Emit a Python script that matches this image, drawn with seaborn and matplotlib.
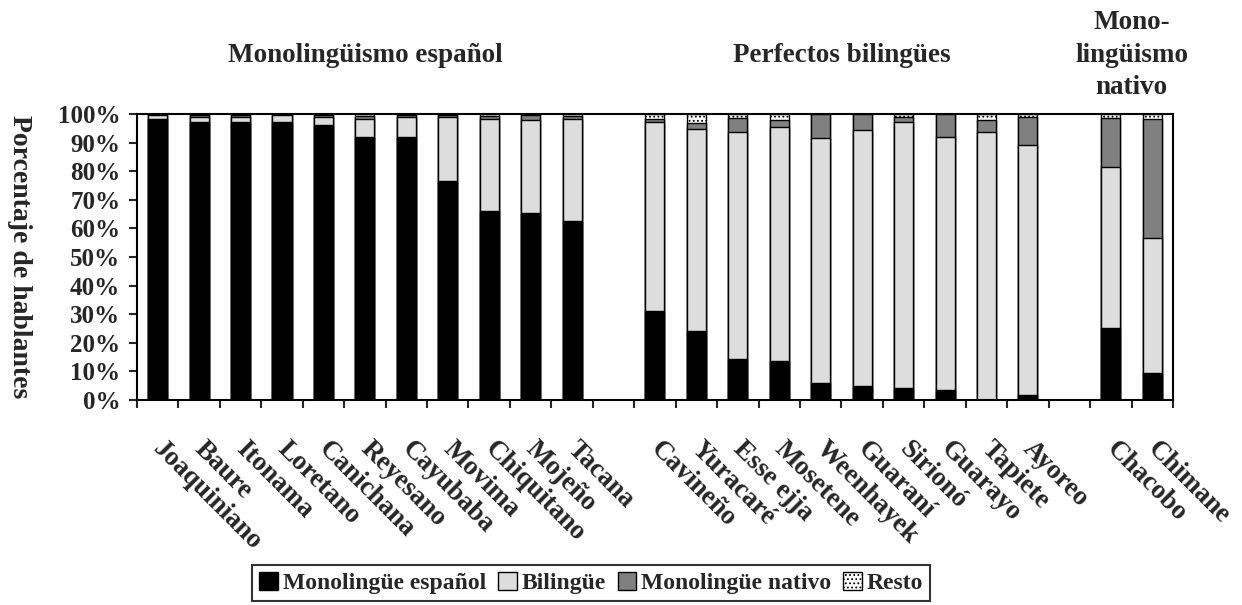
import pandas as pd
import matplotlib
matplotlib.use("Agg")
import matplotlib.pyplot as plt
import matplotlib.transforms as mtransforms
from matplotlib.patches import Patch
from matplotlib.ticker import FixedLocator
import seaborn as sns

# lenguas por grupo
grupo_esp = ["Joaquiniano", "Baure", "Itonama", "Loretano", "Canichana", "Reyesano",
             "Cayubaba", "Movima", "Chiquitano", "Mojeño", "Tacana"]
grupo_bil = ["Cavineño", "Yuracaré", "Esse ejja", "Mosetene", "Weenhayek", "Guaraní",
             "Sirionó", "Guarayo", "Tapiete", "Ayoreo"]
grupo_nat = ["Chacobo", "Chimane"]

# porcentajes
mono_esp = [98.2, 97.2, 97.2, 97.2, 96.0, 92.0, 92.0, 76.7, 66.2, 65.5, 62.7,
            31.1, 24.1, 14.2, 13.6, 5.9, 4.9, 4.3, 3.6, 0.0, 1.7,
            25.1, 9.6]
bilingue = [1.4, 1.9, 1.9, 2.5, 3.0, 6.4, 7.1, 22.4, 32.2, 32.4, 35.7,
            66.2, 70.8, 79.5, 82.0, 85.6, 89.5, 93.0, 88.5, 93.7, 87.5,
            56.5, 46.9]
mono_nat = [0.2, 0.5, 0.5, 0.1, 0.6, 1.0, 0.5, 0.6, 1.0, 1.7, 1.0,
            1.0, 1.9, 4.8, 2.3, 8.5, 5.6, 1.7, 7.9, 4.2, 9.9,
            16.9, 41.6]

series = ["Monolingüe español", "Bilingüe", "Monolingüe nativo", "Resto"]
colores = ["black", "#dddddd", "#808080", "white"]
titulos = ["Monolingüismo español", "Perfectos bilingües", "Mono-\nlingüismo\nnativo"]

lenguas = grupo_esp + grupo_bil + grupo_nat
df = pd.DataFrame({"lengua": lenguas, "esp": mono_esp, "bil": bilingue, "nat": mono_nat})
df["resto"] = 100 - df["esp"] - df["bil"] - df["nat"]
df["c1"] = df["esp"]
df["c2"] = df["c1"] + df["bil"]
df["c3"] = df["c2"] + df["nat"]
df["c4"] = df["c3"] + df["resto"]

# huecos vacios entre grupos
order = grupo_esp + [" "] + grupo_bil + ["  "] + grupo_nat

sns.set_style("white")
plt.rcParams["font.family"] = ["Liberation Serif", "DejaVu Serif"]
plt.rcParams["font.weight"] = "bold"
plt.rcParams["hatch.color"] = "#999999"
plt.rcParams["hatch.linewidth"] = 0.8

fig = plt.figure(figsize=(12.42, 6.05), dpi=100)
ax = fig.add_axes([0.1103, 0.3388, 0.8341, 0.4728])

capas = [("c4", colores[3], "...."), ("c3", colores[2], None),
         ("c2", colores[1], None), ("c1", colores[0], None)]
for col, color, hatch in capas:
    sns.barplot(data=df, x="lengua", y=col, order=order, color=color, saturation=1,
                width=0.46, edgecolor="black", linewidth=1, hatch=hatch,
                errorbar=None, ax=ax)

ax.set_xlim(-0.5, len(order) - 0.5)
ax.set_ylim(0, 100)
ax.set_xlabel("")
ax.set_ylabel("Porcentaje de hablantes", rotation=270, fontsize=20, fontweight="bold", va="center")
ax.yaxis.set_label_coords(-0.113, 0.5)

ax.set_yticks(range(0, 101, 10))
ax.set_yticklabels([f"{v}%" for v in range(0, 101, 10)], fontsize=18, fontweight="bold")
ax.tick_params(axis="y", direction="out", length=6, width=1.5, pad=6, left=True)

ax.set_xticks(range(len(order)))
ax.set_xticklabels(order, rotation=-45, ha="left", va="top", rotation_mode="anchor",
                   fontsize=19.5, fontweight="bold")
ax.tick_params(axis="x", which="major", length=0, pad=26)
desplaza = mtransforms.ScaledTranslation(0.08, 0, fig.dpi_scale_trans)
for lab in ax.get_xticklabels():
    lab.set_transform(lab.get_transform() + desplaza)
ax.xaxis.set_minor_locator(FixedLocator([i - 0.5 for i in range(len(order) + 1)]))
ax.tick_params(axis="x", which="minor", direction="out", length=6, width=1.5, bottom=True)

for s in ax.spines.values():
    s.set_visible(True)
    s.set_color("black")
    s.set_linewidth(1.5)

# titulos de grupo
centros = [5, 16.5, 23.5]
trans = ax.get_xaxis_transform()
for c, t in zip(centros, titulos):
    ax.text(c, 1.206, t, transform=trans, ha="center", va="center", fontsize=19.5,
            fontweight="bold", linespacing=1.4)

handles = [Patch(facecolor=c, edgecolor="black", hatch=h, linewidth=1)
           for c, h in zip(colores, [None, None, None, "...."])]
leg = fig.legend(handles, series, loc="center", bbox_to_anchor=(0.476, 0.036), ncol=4,
                 frameon=True, fancybox=False, edgecolor="black", handlelength=0.8,
                 handleheight=0.8, handletextpad=0.2, columnspacing=0.5, borderpad=0.3,
                 prop={"size": 17, "weight": "bold"})
leg.get_frame().set_linewidth(1.5)

fig.savefig("out.png", dpi=100)
